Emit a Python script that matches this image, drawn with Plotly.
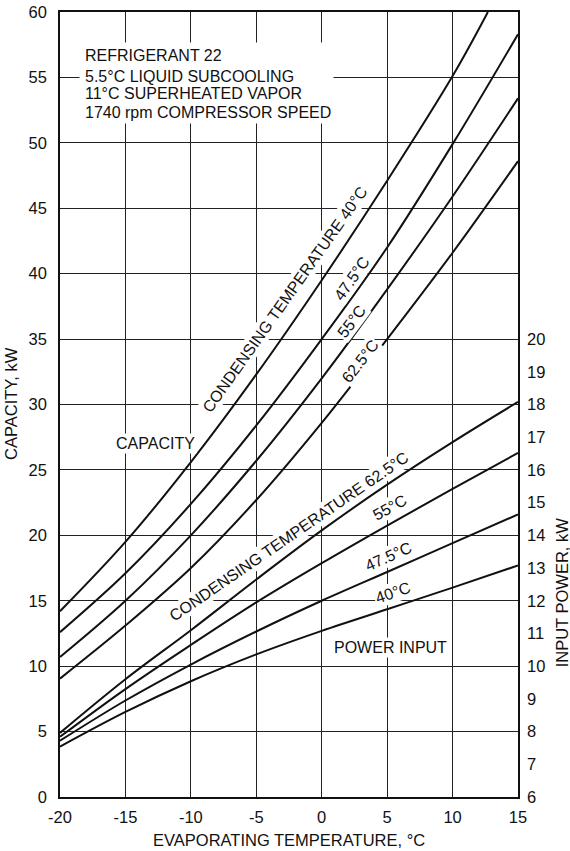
import plotly.graph_objects as go

# Evaporating temperature, °C
evap = [-20, -15, -10, -5, 0, 5, 10, 15]
evap_40 = [-20, -15, -10, -5, 0, 5, 10, 12.7]

# Capacity, kW, by condensing temperature
cap_40 = [14.2, 19.5, 25.6, 32.3, 39.5, 47.1, 55.1, 60.0]
cap_47_5 = [12.6, 17.1, 22.4, 28.4, 35.0, 42.0, 49.9, 58.3]
cap_55 = [10.7, 15.0, 20.0, 25.7, 32.0, 38.8, 45.9, 53.4]
cap_62_5 = [9.05, 13.1, 17.5, 22.7, 28.6, 35.0, 41.6, 48.6]

# Input power, kW, by condensing temperature
pow_40 = [7.54, 8.60, 9.54, 10.36, 11.08, 11.74, 12.40, 13.08]
pow_47_5 = [7.72, 8.95, 10.05, 11.06, 12.00, 12.88, 13.76, 14.64]
pow_55 = [7.84, 9.30, 10.65, 11.95, 13.15, 14.30, 15.42, 16.52]
pow_62_5 = [7.96, 9.60, 11.10, 12.65, 14.15, 15.55, 16.85, 18.08]

x_ticks = [-20, -15, -10, -5, 0, 5, 10, 15]
x_tick_text = ["-20", "-15", "-10", "-5", "0", "5", "10", "15"]
cap_ticks = list(range(0, 61, 5))
pow_ticks = list(range(6, 21))

FONT = "Liberation Sans, Arial, Helvetica, sans-serif"
INK = "#111111"

fig = go.Figure()

line_style = dict(color=INK, width=2, shape="spline", smoothing=1.0)

for xs, ys in [(evap_40, cap_40), (evap, cap_47_5), (evap, cap_55), (evap, cap_62_5)]:
    fig.add_trace(go.Scatter(x=xs, y=ys, mode="lines", line=line_style,
                             yaxis="y", showlegend=False, hoverinfo="skip"))

for ys in [pow_40, pow_47_5, pow_55, pow_62_5]:
    fig.add_trace(go.Scatter(x=evap, y=ys, mode="lines", line=line_style,
                             yaxis="y2", showlegend=False, hoverinfo="skip"))

annotations = []

# White panel behind the notes block so the grid stops around it
annotations.append(dict(x=-8.8, y=54.57, xref="x", yref="y", text=" ",
                        showarrow=False, width=253, height=80,
                        bgcolor="white", borderpad=0,
                        xanchor="center", yanchor="middle"))

notes = [
    ("REFRIGERANT 22", 56.7),
    ("5.5°C LIQUID SUBCOOLING", 55.1),
    ("11°C SUPERHEATED VAPOR", 53.75),
    ("1740 rpm COMPRESSOR SPEED", 52.35),
]
for txt, yv in notes:
    annotations.append(dict(x=-18.25, y=yv, xref="x", yref="y", text=txt,
                            showarrow=False, xanchor="left", yanchor="middle",
                            font=dict(size=16, color=INK, family=FONT)))

# Curve labels: (text, x, y, angle)
labels = [
    ("CONDENSING TEMPERATURE 40°C", -2.8, 38.0, -54.7),
    ("47.5°C", 2.29, 39.65, -55),
    ("55°C", 2.29, 36.33, -53),
    ("62.5°C", 2.93, 33.27, -52),
    ("CAPACITY", -12.74, 27.03, 0),
    ("CONDENSING TEMPERATURE 62.5°C", -2.5, 19.9, -34.5),
    ("55°C", 5.22, 22.1, -29),
    ("47.5°C", 5.09, 18.35, -24),
    ("40°C", 5.47, 15.65, -19),
    ("POWER INPUT", 5.22, 11.41, 0),
]
for txt, xv, yv, ang in labels:
    annotations.append(dict(x=xv, y=yv, xref="x", yref="y", text=txt,
                            showarrow=False, textangle=ang,
                            xanchor="center", yanchor="middle",
                            bgcolor="white", borderpad=1,
                            font=dict(size=16, color=INK, family=FONT)))

# Axis titles
annotations.append(dict(x=-0.107, y=0.502, xref="paper", yref="paper",
                        text="CAPACITY, kW", textangle=-90, showarrow=False,
                        xanchor="center", yanchor="middle",
                        font=dict(size=16.5, color=INK, family=FONT)))
annotations.append(dict(x=1.0965, y=0.261, xref="paper", yref="paper",
                        text="INPUT POWER, kW", textangle=-90, showarrow=False,
                        xanchor="center", yanchor="middle",
                        font=dict(size=16.5, color=INK, family=FONT)))
annotations.append(dict(x=0.5, y=-0.055, xref="paper", yref="paper",
                        text="EVAPORATING TEMPERATURE, °C", showarrow=False,
                        xanchor="center", yanchor="middle",
                        font=dict(size=16.5, color=INK, family=FONT)))

fig.update_layout(
    width=570, height=851,
    margin=dict(l=60, r=52, t=12, b=54),
    paper_bgcolor="white", plot_bgcolor="white",
    font=dict(family=FONT, size=16, color=INK),
    showlegend=False,
    annotations=annotations,
    xaxis=dict(range=[-20, 15], tickvals=x_ticks, ticktext=x_tick_text, ticks="",
               showgrid=True, gridcolor="#222222", gridwidth=1,
               showline=True, linecolor=INK, linewidth=1.5, mirror=True,
               zeroline=False, ticklabelstandoff=4, automargin=False,
               tickfont=dict(size=16.5, color=INK, family=FONT)),
    yaxis=dict(range=[0, 60], tickvals=cap_ticks, ticks="",
               showgrid=True, gridcolor="#222222", gridwidth=1,
               showline=True, linecolor=INK, linewidth=1.5, mirror=True,
               zeroline=False, ticklabelstandoff=8, automargin=False,
               tickfont=dict(size=16.5, color=INK, family=FONT)),
    yaxis2=dict(range=[6, 30], tickvals=pow_ticks, ticks="",
                overlaying="y", side="right", showgrid=False,
                showline=False, zeroline=False, ticklabelstandoff=8,
                automargin=False,
                tickfont=dict(size=16.5, color=INK, family=FONT)),
)

fig.write_html("out.html")
